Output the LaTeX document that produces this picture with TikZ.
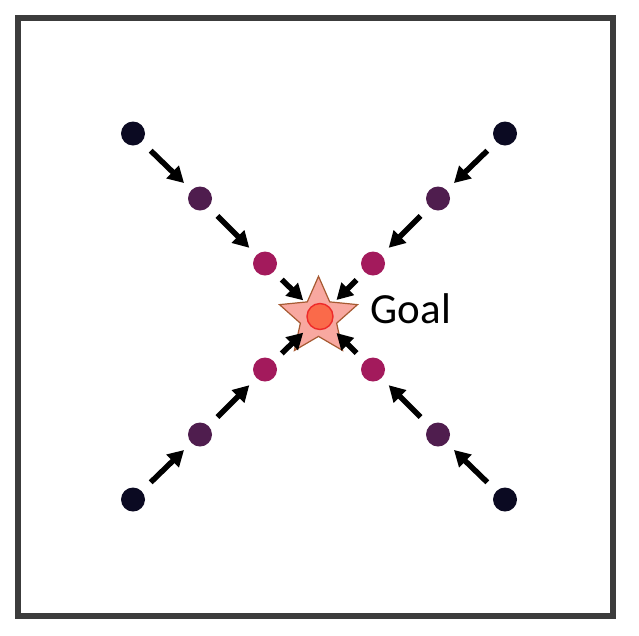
\documentclass[tikz,border=0pt]{standalone}
\usepackage{fontspec}
\setmainfont{Carlito}
\usetikzlibrary{arrows.meta,shapes.geometric}
\definecolor{frameg}{HTML}{3C3C3C}
\definecolor{dotA}{HTML}{0B0A22}
\definecolor{dotB}{HTML}{4F1D4E}
\definecolor{dotC}{HTML}{A31A5C}
\definecolor{starfill}{HTML}{F8A8A0}
\definecolor{stardraw}{HTML}{A65A32}
\definecolor{goalfill}{HTML}{FA6A4A}
\definecolor{goaldraw}{HTML}{EE2A2A}
\tikzset{
  dot/.style={circle,inner sep=0pt,minimum size=24pt},
  d1/.style={dot,fill=dotA},
  d2/.style={dot,fill=dotB},
  d3/.style={dot,fill=dotC},
  mv/.style={line width=5.5pt,-{Triangle[length=16pt,width=17pt]},shorten <=12.5pt,shorten >=10pt},
  mvlast/.style={line width=5.5pt,-{Triangle[length=16pt,width=17pt]},shorten <=11pt,shorten >=9.6pt},
}
\begin{document}
\begin{tikzpicture}[x=1pt,y=-1pt]
\useasboundingbox (0,0) rectangle (639,635);
\draw[frameg,line width=6pt] (17.5,18) rectangle (613.3,616.3);
% goal star
\node[star,star points=5,star point ratio=2.15,minimum size=82pt,inner sep=0pt,
      fill=starfill,draw=stardraw,line width=1.2pt] (star) at (318.5,317.3) {};
\node[circle,inner sep=0pt,minimum size=26pt,fill=goalfill,draw=goaldraw,line width=1.4pt] (g) at (320,316.5) {};
\node[anchor=base west,inner sep=0pt,font=\fontsize{43}{50}\selectfont] (lbl) at (370.5,323.3) {Goal};
% top-left
\node[d1] (tl1) at (133,133.5) {};
\node[d2] (tl2) at (200,198.5) {};
\node[d3] (tl3) at (265,263.5) {};
% top-right
\node[d1] (tr1) at (505,133.5) {};
\node[d2] (tr2) at (438,198.5) {};
\node[d3] (tr3) at (373,263.5) {};
% bottom-left
\node[d1] (bl1) at (133,499.5) {};
\node[d2] (bl2) at (200,434.5) {};
\node[d3] (bl3) at (265,369.5) {};
% bottom-right
\node[d1] (br1) at (505,499.5) {};
\node[d2] (br2) at (438,434.5) {};
\node[d3] (br3) at (373,369.5) {};
% arrows
\foreach \p in {tl,tr,bl,br}{
  \draw[mv] (\p1) -- (\p2);
  \draw[mv] (\p2) -- (\p3);
  \draw[mvlast] (\p3) -- (g);
}
\end{tikzpicture}
\end{document}
